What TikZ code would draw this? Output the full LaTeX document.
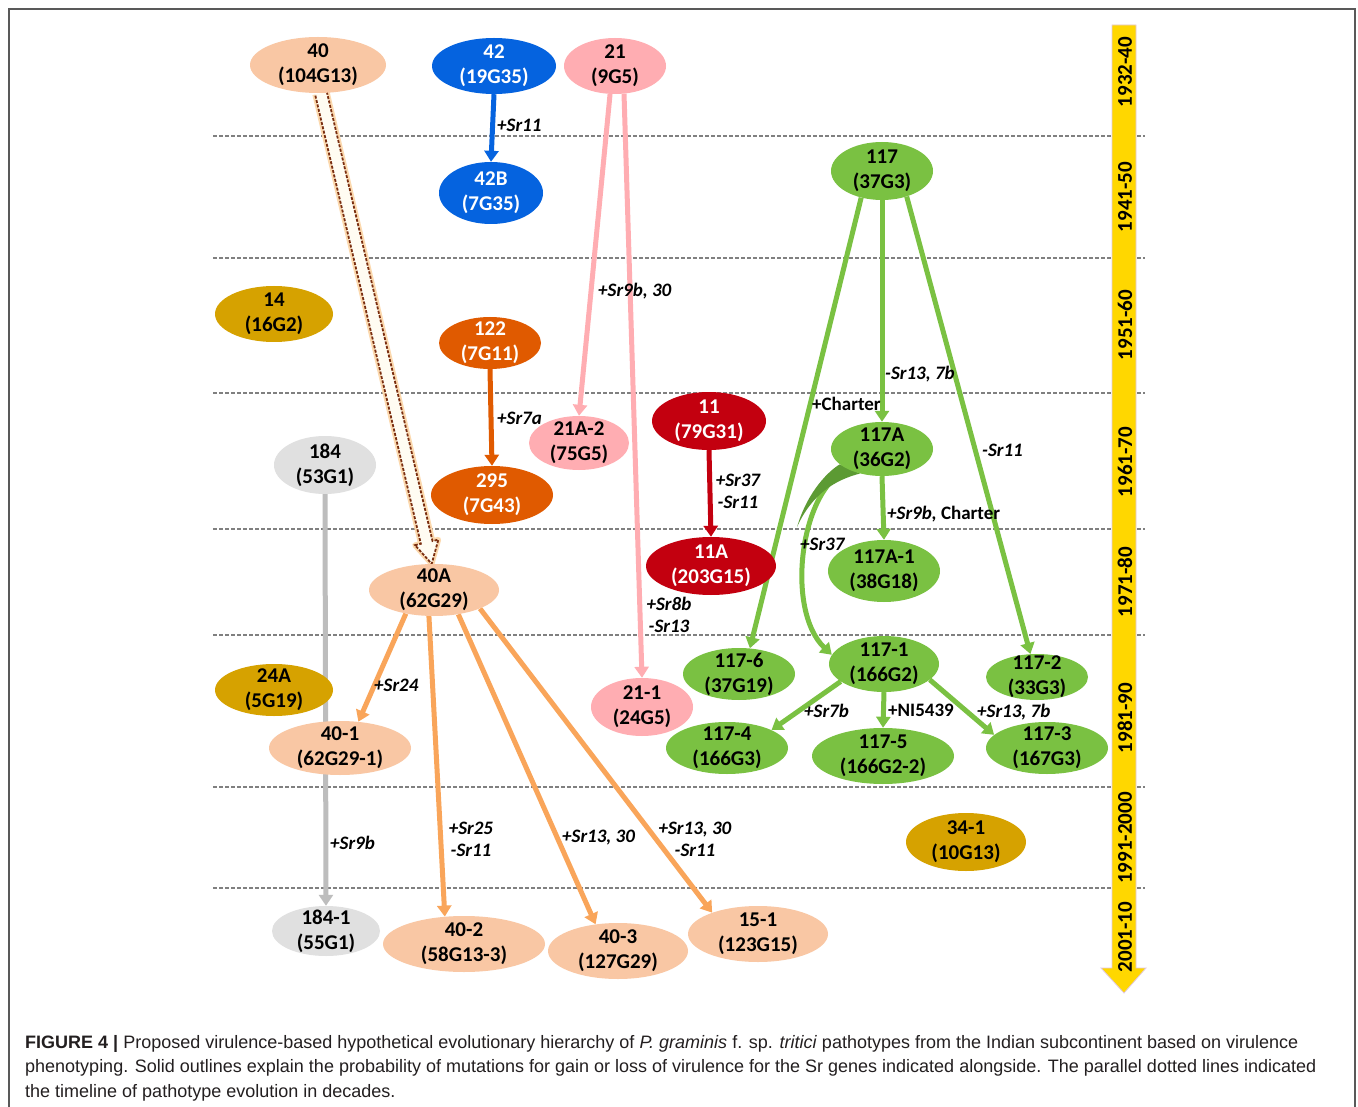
\documentclass[tikz,border=0pt]{standalone}
\usepackage{fontspec}
\setmainfont{Carlito}
\newfontfamily\capfont{Liberation Sans}
\usetikzlibrary{shapes.geometric,arrows.meta,calc}
\definecolor{cpeach}{HTML}{F9C7A4}
\definecolor{cblue}{HTML}{0563DF}
\definecolor{cpink}{HTML}{FFADB2}
\definecolor{corange}{HTML}{E05A00}
\definecolor{ccrimson}{HTML}{C3000F}
\definecolor{cgreen}{HTML}{7AC142}
\definecolor{cdkgreen}{HTML}{5C9A33}
\definecolor{cgold}{HTML}{D6A200}
\definecolor{cgray}{HTML}{E0E0E0}
\definecolor{cltorange}{HTML}{F9A55A}
\definecolor{cgrayedge}{HTML}{BDBDBD}
\definecolor{cyellow}{HTML}{FFD700}
\definecolor{cbrown}{HTML}{7A2E10}
\definecolor{cglow}{HTML}{FCD9AE}
\definecolor{ccap}{HTML}{231F20}
\pgfdeclarelayer{bg}
\pgfsetlayers{bg,main}
\begin{document}
\begin{tikzpicture}[x=1pt,y=-1pt,
  ell/.style={ellipse, inner sep=-60pt, align=center, font=\bfseries\fontsize{21}{25}\selectfont,
              execute at begin node={\rule{0pt}{20pt}}},
  sz/.style 2 args={minimum width=#1pt, minimum height=#2pt},
  peach/.style={ell, fill=cpeach, text=black},
  blue/.style={ell, fill=cblue, text=white},
  pink/.style={ell, fill=cpink, text=black},
  orng/.style={ell, fill=corange, text=white},
  crim/.style={ell, fill=ccrimson, text=white},
  grn/.style={ell, fill=cgreen, text=black},
  gold/.style={ell, fill=cgold, text=black},
  gry/.style={ell, fill=cgray, text=black},
  edge/.style={line width=5pt, draw=#1, -{Triangle[width=14pt,length=11pt]}},
  lab/.style={font=\bfseries\fontsize{19}{22}\selectfont, align=center, inner sep=0pt, text=black},
  tlab/.style={font=\bfseries\fontsize{21}{25}\selectfont, rotate=90, inner sep=0pt, text=black},
  decade/.style={draw=gray, line width=1.3pt, dash pattern=on 4pt off 2pt}
]
\useasboundingbox (0,0) rectangle (1358,1107);

% nodes
\node[peach, sz={136}{56}] (n40) at (318,65) {40\\(104G13)};
\node[blue, sz={124}{56}] (n42) at (494,66) {42\\(19G35)};
\node[pink, sz={102}{56}] (n21) at (615,66) {21\\(9G5)};
\node[blue, sz={104}{62}] (n42B) at (491,193) {42B\\(7G35)};
\node[grn, sz={102}{58}] (n117) at (882,171) {117\\(37G3)};
\node[gold, sz={118}{56}] (n14) at (274,314) {14\\(16G2)};
\node[orng, sz={102}{52}] (n122) at (490,343) {122\\(7G11)};
\node[pink, sz={100}{54}] (n21A2) at (579,443) {21A-2\\(75G5)};
\node[crim, sz={114}{58}] (n11) at (709,421) {11\\(79G31)};
\node[grn, sz={102}{54}] (n117A) at (882,449) {117A\\(36G2)};
\node[gry, sz={102}{58}] (n184) at (325,465) {184\\(53G1)};
\node[orng, sz={122}{58}] (n295) at (492,495) {295\\(7G43)};
\node[crim, sz={130}{58}] (n11A) at (711,566) {11A\\(203G15)};
\node[grn, sz={112}{62}] (n117A1) at (884,571) {117A-1\\(38G18)};
\node[peach, sz={130}{52}] (n40A) at (434,590) {40A\\(62G29)};
\node[gold, sz={118}{52}] (n24A) at (274,690) {24A\\(5G19)};
\node[grn, sz={112}{52}] (n117s6) at (739,674) {117-6\\(37G19)};
\node[grn, sz={110}{56}] (n117s1) at (884,664) {117-1\\(166G2)};
\node[grn, sz={102}{46}] (n117s2) at (1037,677) {117-2\\(33G3)};
\node[pink, sz={102}{58}] (n21s1) at (642,707) {21-1\\(24G5)};
\node[peach, sz={142}{54}] (n40s1) at (340,748) {40-1\\(62G29-1)};
\node[grn, sz={122}{52}] (n117s4) at (727,748) {117-4\\(166G3)};
\node[grn, sz={142}{56}] (n117s5) at (883,756) {117-5\\(166G2-2)};
\node[grn, sz={122}{52}] (n117s3) at (1047,748) {117-3\\(167G3)};
\node[gold, sz={120}{58}] (n34s1) at (966,842) {34-1\\(10G13)};
\node[gry, sz={108}{50}] (n184s1) at (326,931) {184-1\\(55G1)};
\node[peach, sz={162}{56}] (n40s2) at (464,944) {40-2\\(58G13-3)};
\node[peach, sz={140}{56}] (n40s3) at (618,951) {40-3\\(127G29)};
\node[peach, sz={140}{56}] (n15s1) at (758,934) {15-1\\(123G15)};

\begin{pgfonlayer}{bg}
\fill[white] (0,0) rectangle (1358,1107);
\draw[line width=1.8pt, draw=black!65] (9,1107) -- (9,9) -- (1355,9) -- (1355,1107);
% decade lines
\foreach \yy in {136,258,393,529,635,787,888}
  \draw[decade] (213,\yy) -- (1145,\yy);
% timeline arrow
\filldraw[fill=cyellow, draw={rgb,255:red,225;green,200;blue,225}, line width=0.8pt]
  (1112,25) -- (1136,25) -- (1136,968) -- (1146,968) -- (1124,993) -- (1101,968) -- (1112,968) -- cycle;
% hollow dashed arrow 40 -> 40A
\coordinate (hs) at (n40.-84);
\coordinate (he) at (n40A.95);
\coordinate (hh) at ($(he)!22pt!(hs)$);
\def\hollow{($(hs)!6pt!90:(he)$) -- ($(hh)!6pt!90:(he)$) -- ($(hh)!12pt!90:(he)$) -- (he) -- ($(hh)!12pt!-90:(he)$) -- ($(hh)!6pt!-90:(he)$) -- ($(hs)!6pt!-90:(he)$)}
\draw[line width=5.5pt, draw=cglow, line join=round] \hollow;
\fill[fill={rgb,255:red,255;green,252;blue,242}] \hollow -- cycle;
\draw[line width=1.8pt, draw=cbrown, dash pattern=on 3pt off 1.5pt] \hollow;
% edges
\draw[edge=cblue] (n42.south) -- (n42B.north);
\draw[edge=cpink] (n21.-100) -- (n21A2.north);
\draw[edge=cpink] (n21.-72) -- (n21s1.north);
\draw[edge=corange] (n122.south) -- (n295.north);
\draw[edge=ccrimson] (n11.south) -- (n11A.north);
\draw[edge=cgreen] (n117.south) -- (n117A.north);
\draw[edge=cgreen] (n117.-128) -- (n117s6.67);
\draw[edge=cgreen] (n117.-46) -- (n117s2.106);
\draw[edge=cgreen] (n117A.south) -- (n117A1.north);
\draw[edge=cgreen] (n117A.210) .. controls (800,490) and (785,610) .. (n117s1.170);
\fill[cdkgreen] (n117A.200) .. controls (830,470) and (808,490) .. (797,527) .. controls (812,494) and (835,480) .. (n117A.228) -- cycle;
\draw[edge=cgreen] (n117s1.-158) -- (n117s4.22);
\draw[edge=cgreen] (n117s1.south) -- (n117s5.north);
\draw[edge=cgreen] (n117s1.-19) -- (n117s3.166);
\draw[edge=cgrayedge] (n184.south) -- (n184s1.north);
\draw[edge=cltorange] (n40A.-140) -- (n40s1.55);
\draw[edge=cltorange] (n40A.-101) -- (n40s2.125);
\draw[edge=cltorange] (n40A.-45) -- (n40s3.130);
\draw[edge=cltorange] (n40A.-22) -- (n15s1.155);
\end{pgfonlayer}

% edge labels
\node[lab, anchor=west] (l1) at (497,125) {\itshape +Sr11};
\node[lab, anchor=west] (l2) at (598,291) {\itshape +Sr9b, 30};
\node[lab, anchor=west] (l3) at (497,418) {\itshape +Sr7a};
\node[lab] (l4) at (738,491) {\itshape +Sr37\\\itshape -Sr11};
\node[lab] (l5) at (669,615) {\itshape +Sr8b\\\itshape -Sr13};
\node[lab, anchor=west] (l6) at (885,374) {\itshape -Sr13, 7b};
\node[lab, anchor=west] (l7) at (812,404) {+Charter};
\node[lab, anchor=west] (l8) at (982,450) {\itshape -Sr11};
\node[lab, anchor=west] (l9) at (887,514) {\textit{+Sr9b,} Charter};
\node[lab, anchor=west] (l10) at (800,544) {\itshape +Sr37};
\node[lab, anchor=west] (l11) at (804,711) {\itshape +Sr7b};
\node[lab, anchor=west] (l12) at (888,710) {+NI5439};
\node[lab, anchor=west] (l13) at (977,712) {\itshape +Sr13, 7b};
\node[lab, anchor=west] (l14) at (374,685) {\itshape +Sr24};
\node[lab, anchor=west] (l15) at (330,843) {\itshape +Sr9b};
\node[lab] (l16) at (471,839) {\itshape +Sr25\\\itshape -Sr11};
\node[lab, anchor=west] (l17) at (562,838) {\itshape +Sr13, 30};
\node[lab] (l18) at (695,839) {\itshape +Sr13, 30\\\itshape -Sr11};

% timeline labels
\node[tlab] (t1) at (1125,72) {1932-40};
\node[tlab] (t2) at (1125,197) {1941-50};
\node[tlab] (t3) at (1125,325) {1951-60};
\node[tlab] (t4) at (1125,462) {1961-70};
\node[tlab] (t5) at (1125,582) {1971-80};
\node[tlab] (t6) at (1125,718) {1981-90};
\node[tlab] (t7) at (1125,838) {1991-2000};
\node[tlab] (t8) at (1125,937) {2001-10};

% caption
\node[anchor=base west, align=left, inner sep=0pt, text=ccap,
      font=\capfont\fontsize{18}{24.5}\selectfont] (cap) at (25,1097)
  {\textbf{FIGURE 4 |} Proposed virulence-based hypothetical evolutionary hierarchy of \textit{P. graminis} f. sp. \textit{tritici} pathotypes from the Indian subcontinent based on virulence\\
   phenotyping. Solid outlines explain the probability of mutations for gain or loss of virulence for the Sr genes indicated alongside. The parallel dotted lines indicated\\
   the timeline of pathotype evolution in decades.};
\end{tikzpicture}
\end{document}
